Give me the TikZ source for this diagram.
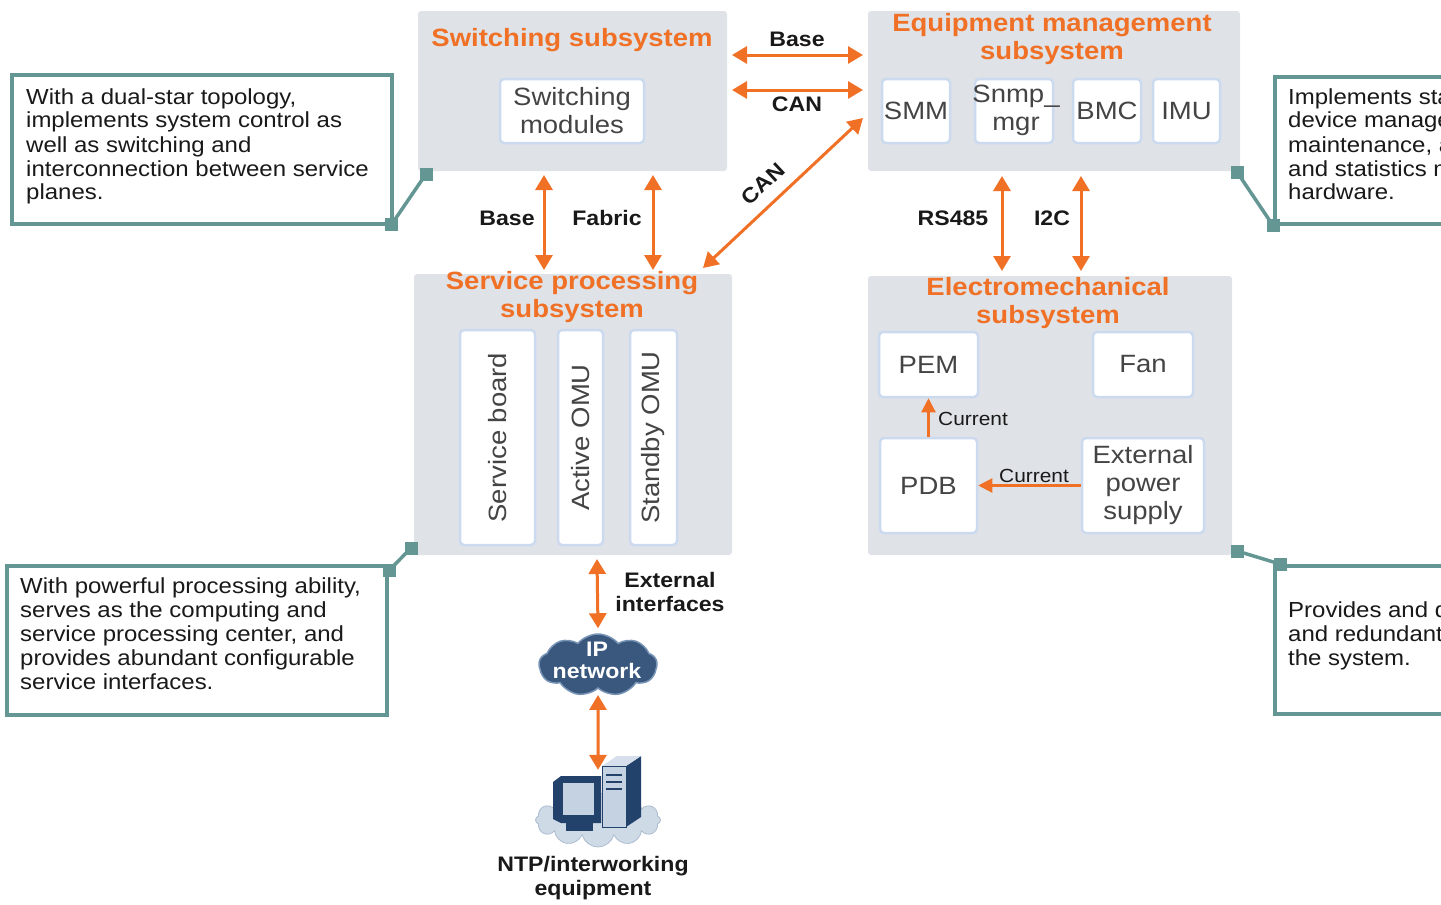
\documentclass[tikz,border=0pt]{standalone}
\usepackage{fontspec}
\setmainfont[FakeStretch=1.1]{Liberation Sans}
\usetikzlibrary{arrows.meta,shapes.symbols}

\definecolor{accent}{RGB}{240,112,38}
\definecolor{panelgray}{RGB}{223,227,231}
\definecolor{cardedge}{RGB}{204,218,240}
\definecolor{noteedge}{RGB}{100,150,148}
\definecolor{inktext}{RGB}{68,68,68}
\definecolor{labelink}{RGB}{25,25,25}
\definecolor{netblue}{RGB}{58,88,126}
\definecolor{netedge}{RGB}{120,148,182}
\definecolor{navy}{RGB}{34,66,108}
\definecolor{paleblue}{RGB}{196,210,226}
\definecolor{hazeblue}{RGB}{206,218,230}

\tikzset{
  panel/.style={fill=panelgray, rounded corners=3pt, inner sep=0pt, outer sep=0pt, anchor=north west},
  card/.style={fill=white, draw=cardedge, line width=2.5pt, rounded corners=4pt, inner sep=0pt,
               text=inktext, font=\fontsize{25}{28}\selectfont, align=center},
  cardtext/.style={text=inktext, font=\fontsize{25}{28}\selectfont, align=center, inner sep=0pt},
  title/.style={text=accent, font=\fontsize{25}{28}\selectfont\bfseries, align=center, inner sep=0pt},
  buslabel/.style={text=labelink, font=\fontsize{21}{24}\selectfont\bfseries, align=center, inner sep=0pt},
  flowlabel/.style={text=labelink, font=\fontsize{19}{22}\selectfont, inner sep=0pt},
  note/.style={draw=noteedge, line width=3.5pt, fill=white, inner sep=0pt, anchor=north west},
  notetext/.style={align=left, text=labelink, font=\fontsize{21.8}{24}\selectfont,
                   inner sep=0pt, anchor=north west},
  tack/.style={fill=noteedge, minimum size=13pt, inner sep=0pt},
  tackline/.style={draw=noteedge, line width=3.5pt},
  bus/.style={draw=accent, line width=3pt,
              {Triangle[width=17pt,length=15pt]}-{Triangle[width=17pt,length=15pt]}},
  flow/.style={draw=accent, line width=2.2pt, -{Triangle[width=14pt,length=14pt]}},
}

\begin{document}
\begin{tikzpicture}[x=1pt,y=-1pt]
\useasboundingbox (0,0) rectangle (1441,905);
\fill[white] (0,0) rectangle (1441,905);

% ---- subsystem panels
\node[panel, minimum width=309pt, minimum height=160pt] (sw) at (418,11) {};
\node[panel, minimum width=372pt, minimum height=160pt] (em) at (868,11) {};
\node[panel, minimum width=318pt, minimum height=281pt] (sp) at (414,274) {};
\node[panel, minimum width=364pt, minimum height=279pt] (el) at (868,276) {};

\node[title] (swT) at (572,40) {Switching subsystem};
\node[title] (emT) at (1052,39) {Equipment management\\subsystem};
\node[title] (spT) at (572,297) {Service processing\\subsystem};
\node[title] (elT) at (1048,303.5) {Electromechanical\\subsystem};

% ---- modules
\node[card, minimum width=144pt, minimum height=64pt] (swm) at (572,111) {Switching\\modules};

\node[card, minimum width=68pt, minimum height=64pt] (smm) at (916,111) {SMM};
\node[card, minimum width=78pt, minimum height=64pt] (snmp) at (1014,111) {};
\node[cardtext] (snmpT) at (1016,110) {Snmp\_\\mgr};
\node[card, minimum width=68pt, minimum height=64pt] (bmc) at (1107,111) {BMC};
\node[card, minimum width=67pt, minimum height=64pt] (imu) at (1186.5,111) {IMU};

\node[card, minimum width=75pt, minimum height=215pt] (sb) at (497.5,437.5) {};
\node[cardtext, rotate=90] (sbT) at (sb) {Service board};
\node[card, minimum width=45pt, minimum height=215pt] (aomu) at (580.5,437.5) {};
\node[cardtext, rotate=90] (aomuT) at (aomu) {Active OMU};
\node[card, minimum width=47pt, minimum height=215pt] (somu) at (653.5,437.5) {};
\node[cardtext, rotate=90] (somuT) at (somu) {Standby OMU};

\node[card, minimum width=99pt, minimum height=65pt] (pem) at (928.5,364.5) {PEM};
\node[card, minimum width=100pt, minimum height=65pt] (fan) at (1143,364.5) {Fan};
\node[card, minimum width=97pt, minimum height=95pt] (pdb) at (928.5,485.5) {PDB};
\node[card, minimum width=122pt, minimum height=95pt] (eps) at (1143,485.5) {External\\power\\supply};

% ---- power flow inside the electromechanical subsystem
\draw[flow] (pdb.north) -- (pem.south);
\draw[flow] (eps.west) -- (pdb.east);
\node[flowlabel] (cur1) at (973,419) {Current};
\node[flowlabel] (cur2) at (1034,476) {Current};

% ---- buses between subsystems
\draw[bus] ([shift={(5,44)}]sw.north east) -- ([shift={(-5,44)}]em.north west);
\draw[bus] ([shift={(5,79)}]sw.north east) -- ([shift={(-5,79)}]em.north west);
\draw[bus] ([shift={(-5,107)}]em.north west) -- ([shift={(-29,-6)}]sp.north east);
\draw[bus] ([shift={(126,4)}]sw.south west) -- ([shift={(130,-4)}]sp.north west);
\draw[bus] ([shift={(235,4)}]sw.south west) -- ([shift={(239,-4)}]sp.north west);
\draw[bus] ([shift={(134,5)}]em.south west) -- ([shift={(134,-5)}]el.north west);
\draw[bus] ([shift={(213,5)}]em.south west) -- ([shift={(213,-5)}]el.north west);

\node[buslabel] (lbBase) at (797,39) {Base};
\node[buslabel] (lbCan) at (797,104) {CAN};
\node[buslabel, rotate=43] (lbCanD) at (763,184) {CAN};
\node[buslabel] (lbBaseV) at (507,218) {Base};
\node[buslabel] (lbFabric) at (607,218) {Fabric};
\node[buslabel] (lbRS) at (953,218) {RS485};
\node[buslabel] (lbI2C) at (1052,218) {I2C};

% ---- external network and equipment
\node[cloud, cloud puffs=9, cloud puff arc=100, aspect=1.9, fill=netblue, draw=netedge,
      line width=1.5pt, minimum width=118pt, minimum height=62pt, inner sep=0pt] (ip) at (598,665) {};
\node[text=white, font=\fontsize{21}{22}\selectfont\bfseries, align=center, inner sep=0pt]
      (ipT) at (597,660) {IP\\network};

\node[inner sep=0pt, minimum width=100pt, minimum height=72pt] (pc) at (598,806) {};
% terminal icon: hazy base, monitor and tower
\node[cloud, cloud puffs=12, aspect=2.4, fill=hazeblue, draw=paleblue!85!navy, line width=0.8pt,
      minimum width=125pt, minimum height=54pt, inner sep=0pt] (pcBase) at (598,820) {};
\fill[navy] (553,782) -- (561,776) -- (601,776) -- (601,823) -- (561,823) -- (553,819) -- cycle;
\fill[paleblue] (563,783) rectangle (594,815);
\fill[navy] (566,823) rectangle (593,831);
\fill[navy] (626,766) -- (641,756) -- (641,817) -- (626,827) -- cycle;
\fill[paleblue!70!white] (602,766) -- (617,756) -- (641,756) -- (626,766) -- cycle;
\filldraw[fill=paleblue, draw=navy, line width=1pt] (602,766) rectangle (626,827);
\draw[navy, line width=1.5pt] (606,775) -- (622,775) (606,782) -- (622,782) (606,789) -- (622,789);

\draw[bus] ([shift={(183,4)}]sp.south west) -- ([shift={(0,-5)}]ip.north);
\draw[bus] ([shift={(0,6)}]ip.south) -- (pc.north);

\node[buslabel] (lbExt) at (670,592) {External\\interfaces};
\node[buslabel] (lbNtp) at (593,878) {NTP/interworking\\equipment};

% ---- description callouts
\node[note, minimum width=380pt, minimum height=149pt] (n1) at (10,73) {};
\node[notetext] (n1T) at (26,88)
  {With a dual-star topology,\\implements system control as\\well as switching and\\interconnection between service\\planes.};
\node[note, minimum width=380pt, minimum height=149pt] (n2) at (5,564) {};
\node[notetext] (n2T) at (20,577)
  {With powerful processing ability,\\serves as the computing and\\service processing center, and\\provides abundant configurable\\service interfaces.};
\node[note, minimum width=420pt, minimum height=147pt] (n3) at (1273,75) {};
\node[notetext] (n3T) at (1288,88)
  {Implements sta\\device manage\\maintenance, a\\and statistics m\\hardware.};
\node[note, minimum width=420pt, minimum height=148pt] (n4) at (1273,564) {};
\node[notetext] (n4T) at (1288,601)
  {Provides and di\\and redundant p\\the system.};

\node[tack] (t1a) at ([shift={(8,3)}]sw.south west) {};
\node[tack] (t1b) at ([shift={(-2,-1)}]n1.south east) {};
\draw[tackline] (t1a.center) -- (t1b.center);
\node[tack] (t2a) at ([shift={(-3,-7)}]sp.south west) {};
\node[tack] (t2b) at ([shift={(1,6)}]n2.north east) {};
\draw[tackline] (t2a.center) -- (t2b.center);
\node[tack] (t3a) at ([shift={(-3,1)}]em.south east) {};
\node[tack] (t3b) at (n3.south west) {};
\draw[tackline] (t3a.center) -- (t3b.center);
\node[tack] (t4a) at ([shift={(5,-4)}]el.south east) {};
\node[tack] (t4b) at ([shift={(7,0)}]n4.north west) {};
\draw[tackline] (t4a.center) -- (t4b.center);
\end{tikzpicture}
\end{document}
